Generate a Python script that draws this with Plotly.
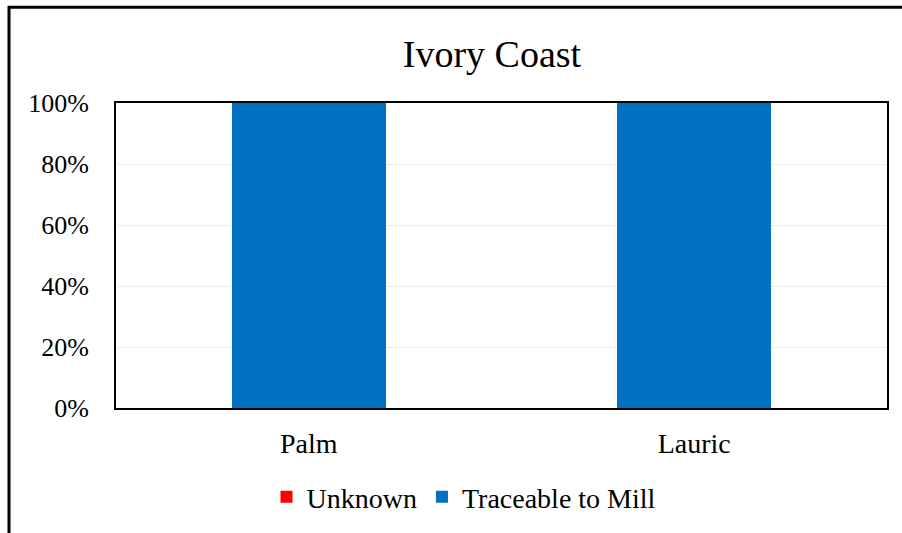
import plotly.graph_objects as go

categories = ["Palm", "Lauric"]
traceable = [1.0, 1.0]
unknown = [0.0, 0.0]
tick_vals = [0, 0.2, 0.4, 0.6, 0.8, 1.0]
tick_text = ["0%", "20%", "40%", "60%", "80%", "100%"]

W, H = 902, 533
L, R, T, B = 116, 15, 103, 124
pw, ph = W - L - R, H - T - B

fig = go.Figure()
fig.add_trace(go.Bar(name="Traceable to Mill", x=categories, y=traceable,
                     marker=dict(color="#0070C0", line=dict(width=0)), width=0.4))
fig.add_trace(go.Bar(name="Unknown", x=categories, y=unknown,
                     marker=dict(color="#FF0000", line=dict(width=0)), width=0.4))

font = "Liberation Serif"
fig.update_layout(
    width=W, height=H,
    margin=dict(l=L, r=R, t=T, b=B),
    barmode="stack",
    paper_bgcolor="white", plot_bgcolor="white",
    font=dict(family=font, size=26, color="black"),
    title=dict(text="Ivory Coast", font=dict(family=font, size=38, color="black"),
               x=492 / W, xref="container", xanchor="center",
               y=1 - 54 / H, yref="container", yanchor="middle"),
    showlegend=True,
    legend=dict(orientation="h", x=(464 - L) / pw, xanchor="center",
                y=(H - B - 497) / ph, yanchor="middle", traceorder="reversed",
                font=dict(family=font, size=28, color="black"), itemwidth=30),
    xaxis=dict(showline=True, linecolor="black", linewidth=2, mirror=True,
               ticks="", showgrid=False, ticklabelstandoff=9,
               tickfont=dict(family=font, size=28)),
    yaxis=dict(range=[0, 1], tickvals=tick_vals, ticktext=tick_text,
               showline=True, linecolor="black", linewidth=2, mirror=True,
               showgrid=True, gridcolor="#ececec", gridwidth=1, ticks="",
               zeroline=False, ticklabelstandoff=20,
               tickfont=dict(family=font, size=26)),
    shapes=[dict(type="rect", xref="paper", yref="paper",
                 x0=(9 - L) / pw, x1=1.2, y0=-0.6, y1=1 + (T - 7) / ph,
                 line=dict(color="black", width=3), fillcolor="rgba(0,0,0,0)",
                 layer="above")],
)

fig.write_html("out.html", config={"displayModeBar": False},
               post_script="document.body.style.margin='0';document.body.style.padding='0';")
